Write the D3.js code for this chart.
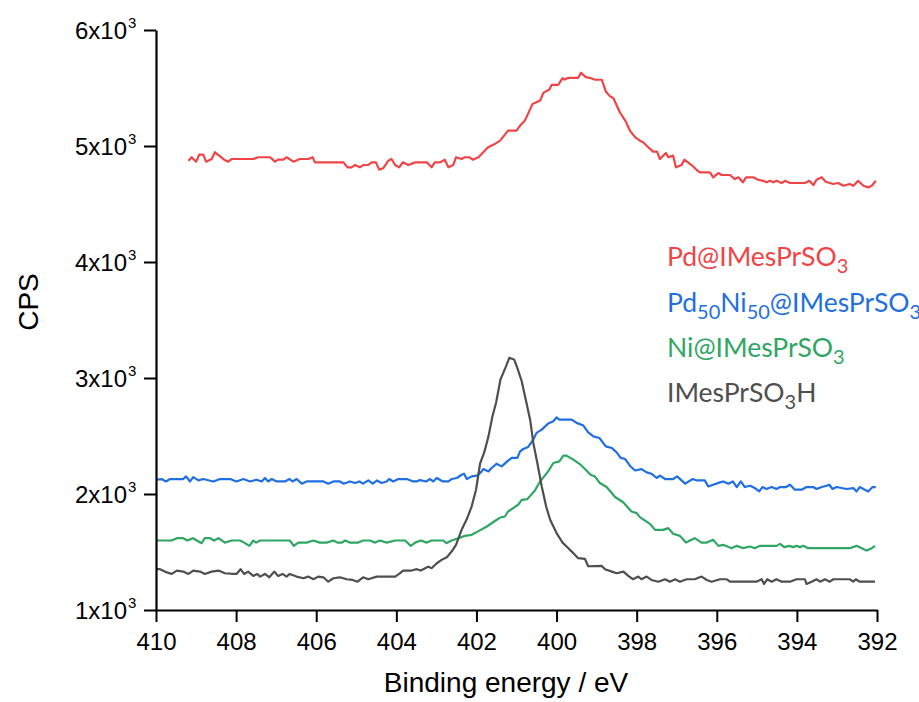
<!DOCTYPE html>
<html><head><meta charset="utf-8">
<script src="https://cdn.jsdelivr.net/npm/d3@7"></script>
<style>html,body{margin:0;padding:0;background:#fff}svg{display:block}</style>
</head><body>
<svg id="chart" width="919" height="702"></svg>
<script>
// ---- data ----
const xMajorTicks = [410, 408, 406, 404, 402, 400, 398, 396, 394, 392];
const xMinorTicks = [409, 407, 405, 403, 401, 399, 397, 395, 393];
const yMajorTicks = [1000, 2000, 3000, 4000, 5000, 6000];
const yMinorTicks = [1500, 2500, 3500, 4500, 5500];
const yTickMantissa = ["1", "2", "3", "4", "5", "6"];

const seriesNames = ["Pd@IMesPrSO3", "Pd50Ni50@IMesPrSO3", "Ni@IMesPrSO3", "IMesPrSO3H"];
const seriesColors = ["#F04446", "#1F6FE2", "#2FA664", "#4F4F4F"];

// [binding energy (eV), CPS]
const pdData = [[409.19,4873],[409.11,4903],[409.00,4865],[408.92,4925],[408.82,4925],[408.75,4865],[408.61,4888],[408.53,4946],[408.40,4911],[408.30,4882],[408.20,4865],[408.11,4888],[407.57,4888],[407.45,4903],[407.15,4903],[407.03,4865],[406.95,4882],[406.82,4882],[406.74,4903],[406.57,4865],[406.41,4888],[406.20,4888],[406.09,4903],[406.03,4859],[405.32,4859],[405.22,4816],[405.12,4816],[405.03,4836],[404.91,4816],[404.83,4836],[404.70,4836],[404.62,4859],[404.51,4859],[404.43,4796],[404.33,4808],[404.20,4873],[404.12,4888],[404.03,4836],[403.93,4816],[403.84,4859],[403.70,4836],[403.53,4859],[403.24,4859],[403.12,4816],[403.04,4859],[402.91,4859],[402.79,4882],[402.70,4816],[402.58,4836],[402.51,4903],[402.37,4888],[402.29,4903],[402.18,4903],[402.09,4882],[401.95,4903],[401.83,4946],[401.71,4989],[401.54,5018],[401.41,5046],[401.21,5133],[401.00,5133],[400.91,5176],[400.79,5219],[400.60,5363],[400.41,5392],[400.33,5458],[400.18,5487],[400.12,5527],[399.96,5527],[399.85,5585],[399.79,5573],[399.71,5588],[399.46,5588],[399.39,5631],[399.27,5594],[399.17,5588],[399.04,5571],[398.87,5571],[398.77,5469],[398.67,5430],[398.58,5412],[398.42,5291],[398.27,5210],[398.17,5133],[398.04,5076],[397.92,5046],[397.84,5032],[397.71,4989],[397.59,4951],[397.49,4951],[397.42,4888],[397.27,4940],[397.21,4903],[397.09,4917],[397.02,4816],[396.88,4836],[396.81,4882],[396.63,4836],[396.50,4793],[396.42,4773],[396.17,4773],[396.09,4730],[395.96,4767],[395.88,4750],[395.67,4750],[395.55,4715],[395.46,4730],[395.35,4687],[395.27,4730],[395.09,4730],[394.97,4709],[394.84,4700],[394.76,4687],[394.67,4700],[394.59,4687],[394.51,4700],[394.38,4681],[394.30,4700],[394.17,4681],[393.80,4681],[393.69,4700],[393.59,4663],[393.51,4709],[393.38,4730],[393.28,4692],[393.09,4672],[392.97,4681],[392.84,4657],[392.68,4672],[392.59,4657],[392.47,4700],[392.34,4657],[392.22,4643],[392.13,4657],[392.03,4700]];

const pdNiData = [[410.00,2123],[409.86,2129],[409.75,2108],[409.65,2129],[409.32,2129],[409.25,2152],[409.15,2108],[409.07,2146],[408.94,2117],[408.82,2129],[408.57,2108],[408.40,2129],[408.15,2129],[407.99,2108],[407.82,2129],[407.65,2108],[407.49,2123],[407.36,2108],[407.28,2138],[407.20,2108],[407.11,2129],[406.99,2108],[406.78,2108],[406.67,2129],[406.59,2108],[406.49,2129],[406.36,2089],[406.24,2108],[405.82,2108],[405.70,2089],[405.57,2108],[405.41,2108],[405.31,2089],[405.16,2108],[405.03,2095],[404.92,2108],[404.83,2089],[404.70,2117],[404.59,2089],[404.48,2117],[404.37,2095],[404.24,2108],[404.18,2129],[404.08,2108],[403.95,2129],[403.74,2129],[403.58,2108],[403.49,2108],[403.41,2120],[403.26,2108],[403.16,2129],[403.08,2108],[402.99,2138],[402.84,2108],[402.70,2108],[402.62,2129],[402.49,2138],[402.37,2166],[402.31,2175],[402.24,2129],[402.12,2152],[401.99,2158],[401.89,2186],[401.83,2215],[401.70,2195],[401.62,2224],[401.50,2261],[401.37,2238],[401.23,2281],[401.12,2311],[400.98,2311],[400.91,2368],[400.83,2388],[400.71,2406],[400.58,2469],[400.50,2527],[400.37,2555],[400.21,2607],[400.08,2627],[400.00,2661],[399.93,2641],[399.62,2641],[399.50,2613],[399.33,2590],[399.21,2532],[399.08,2497],[398.93,2483],[398.77,2411],[398.62,2397],[398.50,2359],[398.40,2311],[398.29,2302],[398.17,2244],[398.04,2203],[397.88,2215],[397.75,2186],[397.63,2175],[397.50,2138],[397.42,2158],[397.29,2129],[397.09,2129],[396.99,2152],[396.79,2089],[396.60,2129],[396.50,2117],[396.30,2117],[396.21,2065],[396.09,2080],[395.92,2100],[395.84,2108],[395.71,2089],[395.60,2108],[395.50,2060],[395.40,2108],[395.30,2060],[395.17,2071],[395.05,2051],[394.94,2022],[394.86,2060],[394.76,2043],[394.63,2060],[394.51,2043],[394.42,2060],[394.27,2060],[394.17,2080],[394.05,2037],[393.88,2037],[393.76,2060],[393.59,2060],[393.51,2043],[393.38,2060],[393.26,2071],[393.19,2080],[393.11,2043],[393.01,2060],[392.76,2043],[392.59,2051],[392.51,2022],[392.43,2060],[392.34,2043],[392.22,2022],[392.11,2060],[392.03,2060]];

const niData = [[410.00,1599],[409.61,1599],[409.48,1619],[409.32,1619],[409.22,1599],[409.08,1619],[408.98,1599],[408.86,1576],[408.78,1619],[408.65,1619],[408.55,1599],[408.44,1619],[408.28,1581],[408.11,1599],[407.90,1599],[407.80,1581],[407.67,1553],[407.57,1599],[407.50,1581],[407.40,1599],[406.66,1599],[406.56,1553],[406.45,1581],[406.24,1581],[406.07,1599],[405.91,1581],[405.74,1581],[405.57,1599],[405.47,1581],[405.36,1581],[405.28,1599],[405.16,1581],[404.95,1581],[404.83,1599],[404.66,1599],[404.53,1581],[404.41,1599],[404.24,1581],[404.03,1599],[403.78,1599],[403.64,1553],[403.53,1581],[403.39,1599],[403.24,1581],[403.12,1599],[402.83,1599],[402.75,1576],[402.62,1599],[402.45,1619],[402.29,1639],[402.12,1648],[401.95,1680],[401.74,1720],[401.54,1767],[401.41,1797],[401.29,1806],[401.21,1849],[400.96,1907],[400.87,1950],[400.73,1956],[400.54,2031],[400.41,2108],[400.21,2195],[400.08,2267],[399.93,2281],[399.83,2330],[399.75,2330],[399.58,2296],[399.42,2258],[399.29,2215],[399.15,2166],[399.04,2150],[398.92,2095],[398.75,2060],[398.54,1974],[398.33,1927],[398.13,1849],[398.00,1835],[397.92,1801],[397.67,1743],[397.54,1691],[397.34,1691],[397.21,1706],[397.09,1657],[396.92,1639],[396.77,1581],[396.67,1599],[396.55,1619],[396.38,1581],[396.25,1581],[396.09,1605],[395.96,1553],[395.84,1562],[395.63,1533],[395.50,1553],[395.34,1533],[395.17,1547],[395.05,1533],[394.92,1553],[394.51,1553],[394.42,1570],[394.32,1542],[394.19,1553],[394.09,1542],[394.01,1553],[393.92,1542],[393.84,1553],[393.72,1533],[392.68,1533],[392.51,1553],[392.38,1533],[392.26,1512],[392.13,1533],[392.05,1553]];

const ligandData = [[410.00,1352],[409.90,1352],[409.78,1331],[409.61,1311],[409.48,1340],[409.32,1331],[409.19,1311],[409.07,1340],[408.90,1331],[408.78,1311],[408.61,1331],[408.44,1340],[408.28,1317],[408.07,1311],[407.99,1311],[407.89,1352],[407.80,1311],[407.70,1331],[407.57,1294],[407.47,1311],[407.40,1288],[407.28,1311],[407.17,1282],[407.05,1331],[406.95,1294],[406.84,1311],[406.74,1288],[406.66,1311],[406.49,1288],[406.32,1274],[406.20,1288],[406.07,1265],[405.95,1288],[405.82,1282],[405.70,1244],[405.57,1274],[405.41,1282],[405.24,1265],[405.09,1259],[404.97,1244],[404.83,1282],[404.70,1265],[404.49,1288],[404.03,1288],[403.93,1311],[403.83,1340],[403.62,1340],[403.49,1352],[403.39,1340],[403.28,1360],[403.20,1374],[403.12,1360],[402.99,1403],[402.87,1432],[402.74,1455],[402.62,1504],[402.51,1562],[402.37,1691],[402.24,1784],[402.12,1892],[402.01,2037],[401.91,2261],[401.81,2354],[401.70,2497],[401.60,2670],[401.51,2786],[401.40,2987],[401.26,3102],[401.18,3174],[401.06,3160],[400.98,3088],[400.87,2972],[400.76,2800],[400.66,2641],[400.58,2440],[400.48,2267],[400.37,2065],[400.26,1892],[400.16,1778],[400.00,1663],[399.85,1581],[399.75,1547],[399.58,1490],[399.46,1447],[399.29,1440],[399.21,1377],[398.87,1380],[398.79,1352],[398.62,1331],[398.50,1317],[398.33,1331],[398.21,1294],[398.09,1265],[397.96,1288],[397.88,1265],[397.75,1288],[397.63,1259],[397.46,1244],[397.29,1265],[397.17,1244],[397.04,1265],[396.92,1244],[396.75,1265],[396.55,1265],[396.38,1288],[396.25,1259],[396.13,1244],[395.92,1265],[395.75,1265],[395.67,1244],[395.01,1244],[394.88,1265],[394.82,1225],[394.74,1265],[394.63,1244],[394.51,1265],[394.38,1244],[394.17,1244],[394.01,1265],[393.80,1265],[393.76,1225],[393.63,1244],[393.51,1265],[393.42,1244],[393.30,1265],[393.18,1244],[393.09,1265],[392.97,1265],[392.68,1265],[392.59,1244],[392.53,1265],[392.43,1244],[392.05,1244]];

const allSeries = [pdData, pdNiData, niData, ligandData];

// ---- chart ----
const svg = d3.select("#chart");
const x = d3.scaleLinear().domain([410, 392]).range([156, 877]);
const y = d3.scaleLinear().domain([1000, 6000]).range([610, 30]);
const axisFont = "'Liberation Sans', Arial, sans-serif";

// lines
const line = d3.line().x(d => x(d[0])).y(d => y(d[1]));
allSeries.forEach((data, i) => {
  svg.append("path").datum(data)
    .attr("fill", "none")
    .attr("stroke", seriesColors[i])
    .attr("stroke-width", 2.2)
    .attr("stroke-linejoin", "round")
    .attr("d", line);
});

// x axis
const xAxisG = svg.append("g").attr("transform", "translate(0,610)");
xAxisG.call(d3.axisBottom(x).tickValues(xMinorTicks).tickSize(6).tickSizeOuter(0).tickFormat(""));
xAxisG.call(d3.axisBottom(x).tickValues(xMajorTicks).tickSize(12).tickSizeOuter(0).tickFormat(d3.format("d")).tickPadding(8));
// y axis
const yAxisG = svg.append("g").attr("transform", "translate(156,0)");
yAxisG.call(d3.axisLeft(y).tickValues(yMinorTicks).tickSize(6).tickSizeOuter(0).tickFormat(""));
yAxisG.call(d3.axisLeft(y).tickValues(yMajorTicks).tickSize(12).tickSizeOuter(0).tickFormat(""));

svg.selectAll(".domain").attr("stroke", "#000").attr("stroke-width", 2.2);
svg.selectAll(".tick line").attr("stroke", "#000").attr("stroke-width", 2);

xAxisG.selectAll(".tick text")
  .attr("font-family", axisFont).attr("font-size", 24).attr("fill", "#000")
  .attr("dy", null).attr("y", 40);

// y tick labels with superscript
yMajorTicks.forEach((v, i) => {
  svg.append("text")
    .attr("x", 127).attr("y", y(v) + 8.5)
    .attr("text-anchor", "end")
    .attr("font-family", axisFont).attr("font-size", 24).attr("fill", "#000")
    .text(yTickMantissa[i] + "x10");
  svg.append("text")
    .attr("x", 128).attr("y", y(v) - 2)
    .attr("font-family", axisFont).attr("font-size", 15).attr("fill", "#000")
    .text("3");
});

// axis titles
svg.append("text")
  .attr("x", 506).attr("y", 692)
  .attr("text-anchor", "middle")
  .attr("font-family", axisFont).attr("font-size", 28).attr("fill", "#000")
  .text("Binding energy / eV");
svg.append("text")
  .attr("transform", "translate(38,302) rotate(-90)")
  .attr("text-anchor", "middle")
  .attr("font-family", axisFont).attr("font-size", 28).attr("fill", "#000")
  .text("CPS");

// legend (text only, with subscripts)
const legendFont = "Lato, 'Open Sans', sans-serif";
const legendParts = [
  [["Pd@IMesPrSO", 0], ["3", 1]],
  [["Pd", 0], ["50", 1], ["Ni", 0], ["50", 1], ["@IMesPrSO", 0], ["3", 1]],
  [["Ni@IMesPrSO", 0], ["3", 1]],
  [["IMesPrSO", 0], ["3", 1], ["H", 0]]
];
const legendBaselines = [266, 311.5, 357, 402];
legendParts.forEach((parts, i) => {
  const t = svg.append("text")
    .attr("x", 667).attr("y", legendBaselines[i])
    .attr("font-family", legendFont).attr("font-size", 26.5)
    .attr("fill", seriesColors[i]);
  let shifted = false;
  parts.forEach(([s, sub]) => {
    const ts = t.append("tspan").text(s);
    if (sub && !shifted) { ts.attr("dy", 7).attr("font-size", 20); shifted = true; }
    else if (sub) { ts.attr("font-size", 20); }
    else if (shifted) { ts.attr("dy", -7); shifted = false; }
  });
});
</script>
</body></html>
